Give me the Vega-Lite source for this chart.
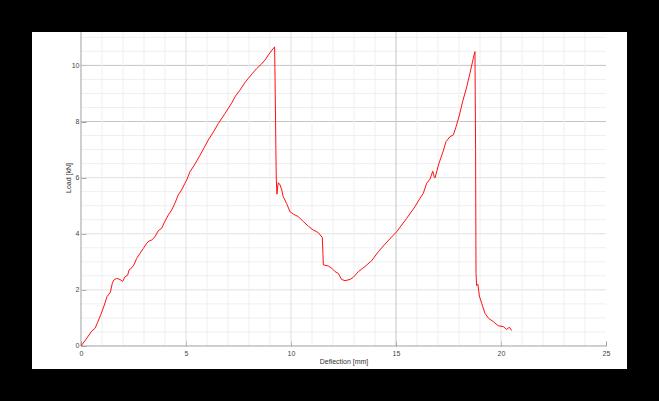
{
  "$schema": "https://vega.github.io/schema/vega-lite/v6.json",
  "width": 595,
  "height": 337,
  "autosize": "none",
  "padding": {"left": 32, "top": 32, "right": 32, "bottom": 32},
  "background": "black",
  "config": {
    "view": {"fill": "white", "stroke": null},
    "font": "Liberation Sans"
  },
  "datasets": {
    "curve": [
      {"d":0,"load":0},{"d":0.25,"load":0.25},{"d":0.51,"load":0.53},{"d":0.67,"load":0.63},{"d":0.79,"load":0.84},{"d":0.95,"load":1.13},{"d":1.11,"load":1.46},{"d":1.24,"load":1.76},{"d":1.4,"load":1.92},{"d":1.49,"load":2.23},{"d":1.56,"load":2.35},{"d":1.7,"load":2.41},{"d":1.86,"load":2.37},{"d":1.98,"load":2.3},{"d":2.1,"load":2.47},{"d":2.22,"load":2.52},{"d":2.29,"load":2.71},{"d":2.44,"load":2.8},{"d":2.54,"load":2.92},{"d":2.65,"load":3.12},{"d":2.81,"load":3.3},{"d":2.97,"load":3.48},{"d":3.13,"load":3.66},{"d":3.24,"load":3.74},{"d":3.37,"load":3.78},{"d":3.52,"load":3.89},{"d":3.68,"load":4.11},{"d":3.84,"load":4.19},{"d":4.0,"load":4.45},{"d":4.16,"load":4.67},{"d":4.32,"load":4.85},{"d":4.48,"load":5.1},{"d":4.63,"load":5.38},{"d":4.79,"load":5.56},{"d":4.95,"load":5.8},{"d":5.03,"load":5.91},{"d":5.19,"load":6.21},{"d":5.4,"load":6.45},{"d":5.67,"load":6.8},{"d":5.85,"load":7.05},{"d":6.06,"load":7.34},{"d":6.3,"load":7.62},{"d":6.54,"load":7.93},{"d":6.86,"load":8.29},{"d":7.17,"load":8.65},{"d":7.35,"load":8.9},{"d":7.57,"load":9.12},{"d":7.8,"load":9.38},{"d":7.97,"load":9.54},{"d":8.17,"load":9.72},{"d":8.37,"load":9.89},{"d":8.57,"load":10.03},{"d":8.76,"load":10.19},{"d":8.95,"load":10.4},{"d":9.1,"load":10.55},{"d":9.22,"load":10.66},{"d":9.25,"load":9.0},{"d":9.28,"load":7.0},{"d":9.3,"load":5.95},{"d":9.33,"load":5.41},{"d":9.37,"load":5.7},{"d":9.4,"load":5.82},{"d":9.48,"load":5.74},{"d":9.56,"load":5.56},{"d":9.63,"load":5.32},{"d":9.79,"load":5.08},{"d":9.95,"load":4.79},{"d":10.11,"load":4.7},{"d":10.35,"load":4.61},{"d":10.59,"load":4.43},{"d":10.83,"load":4.27},{"d":11.06,"load":4.13},{"d":11.2,"load":4.08},{"d":11.3,"load":4.04},{"d":11.49,"load":3.87},{"d":11.52,"load":3.3},{"d":11.54,"load":2.89},{"d":11.78,"load":2.85},{"d":11.94,"load":2.77},{"d":12.1,"load":2.65},{"d":12.25,"load":2.59},{"d":12.41,"load":2.37},{"d":12.57,"load":2.33},{"d":12.81,"load":2.37},{"d":12.97,"load":2.45},{"d":13.21,"load":2.65},{"d":13.52,"load":2.83},{"d":13.84,"load":3.04},{"d":14.16,"load":3.36},{"d":14.44,"load":3.6},{"d":14.75,"load":3.85},{"d":15.03,"load":4.07},{"d":15.51,"load":4.55},{"d":15.9,"load":4.96},{"d":16.14,"load":5.26},{"d":16.3,"load":5.44},{"d":16.46,"load":5.8},{"d":16.62,"load":5.95},{"d":16.75,"load":6.23},{"d":16.83,"load":6.0},{"d":16.86,"load":5.99},{"d":17.02,"load":6.45},{"d":17.25,"load":6.95},{"d":17.38,"load":7.28},{"d":17.57,"load":7.46},{"d":17.73,"load":7.52},{"d":17.86,"load":7.81},{"d":18.02,"load":8.23},{"d":18.17,"load":8.7},{"d":18.37,"load":9.24},{"d":18.52,"load":9.71},{"d":18.68,"load":10.25},{"d":18.76,"load":10.49},{"d":18.79,"load":7.0},{"d":18.81,"load":2.59},{"d":18.84,"load":2.15},{"d":18.9,"load":2.2},{"d":18.97,"load":1.78},{"d":19.08,"load":1.52},{"d":19.24,"load":1.16},{"d":19.4,"load":0.99},{"d":19.63,"load":0.87},{"d":19.87,"load":0.72},{"d":20.11,"load":0.69},{"d":20.27,"load":0.59},{"d":20.4,"load":0.67},{"d":20.51,"load":0.55}
    ],
    "hgrid": [
      {"v":0.5,"level":"minor"},{"v":1,"level":"minor"},{"v":1.5,"level":"minor"},{"v":2,"level":"major"},{"v":2.5,"level":"minor"},{"v":3,"level":"minor"},{"v":3.5,"level":"minor"},{"v":4,"level":"major"},{"v":4.5,"level":"minor"},{"v":5,"level":"minor"},{"v":5.5,"level":"minor"},{"v":6,"level":"major"},{"v":6.5,"level":"minor"},{"v":7,"level":"minor"},{"v":7.5,"level":"minor"},{"v":8,"level":"strong"},{"v":8.5,"level":"minor"},{"v":9,"level":"minor"},{"v":9.5,"level":"minor"},{"v":10,"level":"strong"},{"v":10.5,"level":"minor"},{"v":11,"level":"minor"}
    ],
    "vgrid": [
      {"v":1,"level":"minor"},{"v":2,"level":"minor"},{"v":3,"level":"minor"},{"v":4,"level":"minor"},{"v":5,"level":"major"},{"v":6,"level":"minor"},{"v":7,"level":"minor"},{"v":8,"level":"minor"},{"v":9,"level":"minor"},{"v":10,"level":"major"},{"v":11,"level":"minor"},{"v":12,"level":"minor"},{"v":13,"level":"minor"},{"v":14,"level":"minor"},{"v":15,"level":"strong"},{"v":16,"level":"minor"},{"v":17,"level":"minor"},{"v":18,"level":"minor"},{"v":19,"level":"minor"},{"v":20,"level":"major"},{"v":21,"level":"minor"},{"v":22,"level":"minor"},{"v":23,"level":"minor"},{"v":24,"level":"minor"}
    ],
    "axes": [
      {"axis":"x"}
    ]
  },
  "layer": [
    {
      "data": {"name": "hgrid"},
      "mark": {"type": "rule", "strokeWidth": 1},
      "encoding": {
        "y": {"field": "v", "type": "quantitative", "scale": {"domain": [-0.82, 11.19], "nice": false, "zero": false}},
        "x": {"datum": 0, "type": "quantitative", "scale": {"domain": [-2.333, 26.0], "nice": false, "zero": false}},
        "x2": {"datum": 25},
        "color": {"field": "level", "type": "nominal", "legend": null, "scale": {"domain": ["minor", "major", "strong"], "range": ["#efefef", "#e0e0e0", "#c4c4c4"]}}
      }
    },
    {
      "data": {"name": "vgrid"},
      "mark": {"type": "rule", "strokeWidth": 1},
      "encoding": {
        "x": {"field": "v", "type": "quantitative"},
        "y": {"datum": 0, "type": "quantitative"},
        "y2": {"datum": 11.19},
        "color": {"field": "level", "type": "nominal", "legend": null}
      }
    },
    {
      "data": {"name": "axes"},
      "mark": {"type": "rule", "color": "#a0a0a0", "strokeWidth": 1},
      "encoding": {
        "x": {"datum": 0, "type": "quantitative"},
        "y": {"datum": 0, "type": "quantitative"},
        "y2": {"datum": 11.19}
      }
    },
    {
      "data": {"name": "axes"},
      "mark": {"type": "rule", "color": "#a0a0a0", "strokeWidth": 1},
      "encoding": {
        "x": {"datum": 0, "type": "quantitative"},
        "x2": {"datum": 25},
        "y": {"datum": 0, "type": "quantitative"}
      }
    },
    {
      "data": {"name": "curve"},
      "mark": {"type": "line", "color": "#ff1010", "strokeWidth": 1},
      "encoding": {
        "x": {
          "field": "d", "type": "quantitative",
          "axis": {
            "title": "Deflection [mm]", "values": [0, 5, 10, 15, 20, 25],
            "offset": -23, "domain": false, "grid": false,
            "tickSize": -5, "tickColor": "#a0a0a0", "labelPadding": 8,
            "labelFontSize": 7, "labelColor": "#444", "labelFont": "Liberation Sans",
            "titleFontSize": 7, "titleFontWeight": "normal", "titleColor": "#333", "titleFont": "Liberation Sans",
            "titleX": 311.5, "titleY": 15, "titleBaseline": "middle", "titleAlign": "center"
          }
        },
        "y": {
          "field": "load", "type": "quantitative",
          "axis": {
            "title": "Load [kN]", "values": [0, 2, 4, 6, 8, 10],
            "offset": -49, "domain": false, "grid": false,
            "tickSize": -5, "tickColor": "#a0a0a0", "labelPadding": 7,
            "labelFontSize": 7, "labelColor": "#444", "labelFont": "Liberation Sans",
            "titleFontSize": 7, "titleFontWeight": "normal", "titleColor": "#333", "titleFont": "Liberation Sans",
            "titleX": -12.5, "titleY": 145.5, "titleBaseline": "middle", "titleAlign": "center", "titleAngle": -90
          }
        }
      }
    }
  ]
}
